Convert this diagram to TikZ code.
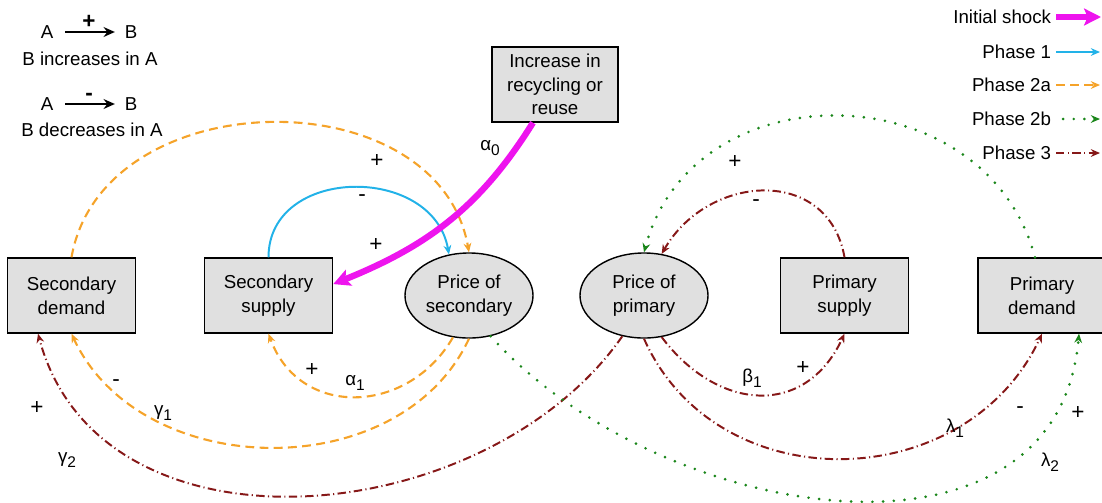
\documentclass[tikz,border=0pt]{standalone}
\usepackage{fontspec}
\setmainfont{Liberation Sans}
\usetikzlibrary{arrows.meta,shapes.geometric,calc}
\definecolor{shockmag}{HTML}{EE14EE}
\definecolor{phaseblue}{HTML}{22B2E8}
\definecolor{phaseorange}{HTML}{F5A32A}
\definecolor{phasegreen}{HTML}{1A861A}
\definecolor{phasered}{HTML}{861818}
\definecolor{boxgray}{HTML}{E0E0E0}
\newcommand{\grk}[2]{#1\raisebox{-0.55ex}{\fontsize{11}{11}\selectfont#2}}

\begin{document}
\begin{tikzpicture}[x=0.025cm,y=0.025cm,font=\fontsize{13.3}{16.8}\selectfont,
    box/.style={draw,line width=1pt,fill=boxgray,minimum width=3.2cm,minimum height=1.875cm,align=center,inner sep=2pt},
    price/.style={ellipse,draw,line width=1pt,fill=boxgray,minimum width=3.2cm,minimum height=2.125cm,align=center,inner sep=0pt},
    sign/.style={font=\fontsize{16}{16}\selectfont},
    tip/.style={-{Stealth[length=6.5pt,width=5.5pt]}},
    shock/.style={shockmag,line width=4.5pt,-{Stealth[length=12pt,width=12pt,inset=2.5pt]}},
    phaseone/.style={tip,phaseblue,line width=1.4pt},
    phasetwoa/.style={tip,phaseorange,line width=1.5pt,dash pattern=on 6.3pt off 3.8pt},
    phasetwob/.style={tip,phasegreen,line width=2.1pt,line cap=round,dash pattern=on 0pt off 7.6pt},
    phasethree/.style={tip,phasered,line width=1.4pt,dash pattern=on 6pt off 2.4pt on 0.8pt off 2.4pt},
    legarrow/.style={line width=1.4pt,-{Stealth[length=8pt,width=7pt]},shorten <=5pt,shorten >=3.5pt}]
  \useasboundingbox (0,0) rectangle (1102,-502);

  \node (a1) at (47,-32) {A};
  \node (b1) at (131,-32) {B};
  \draw[legarrow] (a1) -- node[above,sign,inner sep=1.5pt] (incsign) {\textbf{+}} (b1);
  \node (inctext) at (90,-59) {B increases in A};
  \node (a2) at (47,-104) {A};
  \node (b2) at (131,-104) {B};
  \draw[legarrow] (a2) -- node[above,sign,inner sep=1.5pt] (decsign) {\textbf{-}} (b2);
  \node (dectext) at (92,-130) {B decreases in A};

  \node[anchor=east] (tshock) at (1056,-17) {Initial shock};
  \node[anchor=east] (tone) at (1056,-52) {Phase 1};
  \node[anchor=east] (ttwoa) at (1056,-85) {Phase 2a};
  \node[anchor=east] (ttwob) at (1056,-119) {Phase 2b};
  \node[anchor=east] (tthree) at (1056,-153) {Phase 3};
  \coordinate (eshock) at (1101,-17);
  \coordinate (eone) at (1100,-52);
  \coordinate (etwoa) at (1100,-85);
  \coordinate (etwob) at (1100,-119);
  \coordinate (ethree) at (1100,-153);
  \draw[shock] (tshock.east) -- (eshock);
  \draw[phaseone] (tone.east) -- (eone);
  \draw[phasetwoa] (ttwoa.east) -- (etwoa);
  \draw[phasetwob] ([xshift=5pt]ttwob.east) -- (etwob);
  \draw[phasethree] (tthree.east) -- (ethree);

  \node[box] (sd) at (71.5,-295.5) {Secondary\\demand};
  \node[box] (ss) at (268.5,-295.5) {Secondary\\supply};
  \node[price] (ps) at (469,-295.5) {Price of\\secondary};
  \node[price] (pp) at (644,-295.5) {Price of\\primary};
  \node[box] (psup) at (844.5,-295.5) {Primary\\supply};
  \node[box] (pd) at (1042,-295.5) {Primary\\demand};
  \node[box,minimum width=3.15cm] (inc) at (555,-84.5) {Increase in\\recycling or\\reuse};

  \draw[phasetwoa] (sd.north) to[out=80,in=100,looseness=1.15] (ps.north);
  \draw[phaseone] (ss.north) to[out=90,in=100,looseness=1.3] (ps.116);
  \draw[shock] (inc.-120) to[out=-122,in=22] (ss.10);
  \draw[phasetwoa] (ps.-111) to[out=-120,in=-70,looseness=1.25] (ss.south);
  \draw[phasetwoa] (ps.south) to[out=-115,in=-65,looseness=1.05] (sd.south);
  \draw[phasethree] (pp.-118) to[out=-125,in=-75,looseness=1.05] ($(sd.south)+(-33.5,0)$);
  \draw[phasetwob] (ps.-62) to[out=-48,in=-95,looseness=1.1] ($(pd.south)+(37,0)$);
  \draw[phasethree] (pp.south) to[out=-66,in=-115,looseness=1.15] (pd.south);
  \draw[phasethree] (pp.-67) to[out=-53,in=-115,looseness=1.3] (psup.south);
  \draw[phasethree] (psup.north) to[out=100,in=60,looseness=1.3] (pp.67);
  \draw[phasetwob] ($(pd.north)+(-7,0)$) to[out=105,in=75,looseness=1.25] (pp.north);

  \node[sign] (plustwoa) at (377,-161) {+};
  \node[sign] (minusone) at (362,-198) {-};
  \node[sign] (plusshock) at (376,-245) {+};
  \node (alpha0) at (490,-148) {\grk{α}{0}};
  \node[sign] (plusalpha) at (312,-370) {+};
  \node (alpha1) at (355,-383) {\grk{α}{1}};
  \node[sign] (minusgamma) at (116,-383) {-};
  \node (gamma1) at (163,-413) {\grk{γ}{1}};
  \node[sign] (plusgamma) at (37,-408) {+};
  \node (gamma2) at (67,-460) {\grk{γ}{2}};
  \node[sign] (plustop) at (735,-162) {+};
  \node[sign] (minustop) at (756,-203) {-};
  \node (beta1) at (752,-378) {\grk{β}{1}};
  \node[sign] (plusbeta) at (803,-368) {+};
  \node[sign] (minuslambda) at (1020,-410) {-};
  \node (lambda1) at (955,-428) {\grk{λ}{1}};
  \node[sign] (pluslambda) at (1078,-413) {+};
  \node (lambda2) at (1050,-462) {\grk{λ}{2}};
\end{tikzpicture}
\end{document}
